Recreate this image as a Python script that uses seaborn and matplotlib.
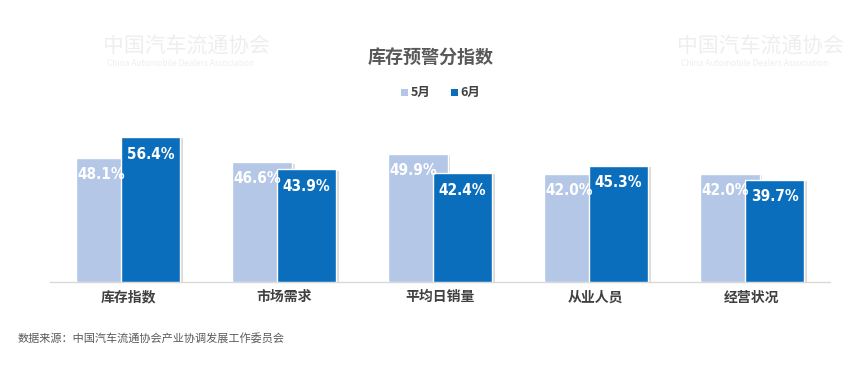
import matplotlib
matplotlib.use('Agg')
import matplotlib.pyplot as plt
import matplotlib.patheffects as pe
import seaborn as sns
import pandas as pd

categories = ['库存指数', '市场需求', '平均日销量', '从业人员', '经营状况']
may = [48.1, 46.6, 49.9, 42.0, 42.0]
june = [56.4, 43.9, 42.4, 45.3, 39.7]
series = ['5月', '6月']
colors = ['#B4C7E7', '#0A6EBD']

df = pd.DataFrame({
    'cat': categories * 2,
    'val': may + june,
    'month': [series[0]] * 5 + [series[1]] * 5,
})

sns.set_style('white')
plt.rcParams['font.family'] = ['Noto Sans CJK SC', 'DejaVu Sans']

fig = plt.figure(figsize=(8.57, 3.76), dpi=100)
ax = fig.add_axes([0.0583, 0.25, 0.91, 0.41])

# faint watermarks (top corners only)
for wx, wy in [(0.12, 0.86), (0.79, 0.86)]:
    fig.text(wx, wy, '中国汽车流通协会', fontsize=15, color='#EEEEEE', zorder=0)
    fig.text(wx + 0.005, wy - 0.035, 'China Automobile Dealers Association', fontsize=6, color='#EEEEEE', zorder=0)

sns.barplot(data=df, x='cat', y='val', hue='month', palette=colors, width=0.76,
            dodge=True, saturation=1, legend=False, ax=ax, zorder=3)

n = len(categories)
light = ax.patches[:n]
dark = ax.patches[n:]
for p in light:
    p.set_x(p.get_x() + 0.05)
for p in dark:
    p.set_x(p.get_x() - 0.045)
    p.set_zorder(4)
for p in ax.patches:
    p.set_path_effects([pe.SimplePatchShadow(offset=(2, -1), shadow_rgbFace='#999999', alpha=0.35), pe.Normal()])

for pl, pd_, a, b in zip(light, dark, may, june):
    lx = pl.get_x() + pl.get_width() / 2 - 0.03
    ax.text(lx, a - 6.4, f'{a:.1f}%', ha='center', va='center', color='white',
            fontsize=11, fontweight='bold', family='DejaVu Sans', fontstretch='condensed', zorder=5)
    dx = pd_.get_x() + pd_.get_width() / 2
    ax.text(dx, b - 6.6, f'{b:.1f}%', ha='center', va='center', color='white',
            fontsize=11, fontweight='bold', family='DejaVu Sans', fontstretch='condensed', zorder=5)

ax.set_xlim(-0.5, 4.5)
ax.set_ylim(0, 60)
ax.set_xlabel('')
ax.set_ylabel('')
ax.set_yticks([])
ax.tick_params(axis='x', length=0, pad=6)
for t in ax.get_xticklabels():
    t.set_fontsize(10)
    t.set_fontweight('bold')
    t.set_color('#404040')
for s in ['top', 'right', 'left']:
    ax.spines[s].set_visible(False)
ax.spines['bottom'].set_color('#D9D9D9')
ax.spines['bottom'].set_linewidth(1)
ax.patch.set_alpha(0)

fig.text(0.502, 0.845, '库存预警分指数', ha='center', va='center', fontsize=13,
         fontweight='bold', color='#595959')

# legend
for i, (lab, c) in enumerate(zip(series, colors)):
    x0 = 0.468 + i * 0.058
    fig.patches.append(plt.Rectangle((x0, 0.745), 0.008, 0.018, transform=fig.transFigure,
                                     facecolor=c, edgecolor='none'))
    fig.text(x0 + 0.011, 0.753, lab, ha='left', va='center', fontsize=9,
             fontweight='bold', color='#404040')

fig.text(0.021, 0.10, '数据来源：中国汽车流通协会产业协调发展工作委员会', ha='left', va='center',
         fontsize=8, color='#595959')

fig.savefig('out.png', dpi=100, facecolor='white')
